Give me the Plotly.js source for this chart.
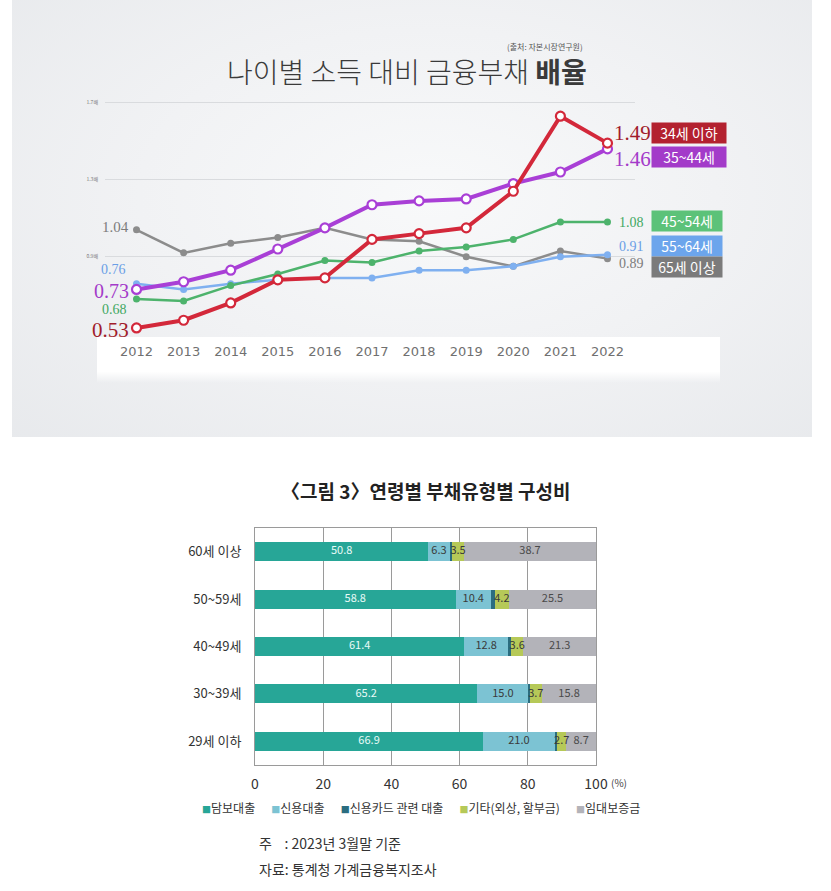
<!DOCTYPE html>
<html>
<head>
<meta charset="utf-8">
<script src="https://cdn.plot.ly/plotly-3.0.1.min.js"></script>
<style>
  html, body { margin:0; padding:0; background:#ffffff; width:831px; height:891px; overflow:hidden; }
  #bg { position:absolute; left:12px; top:0; width:800px; height:437px;
        background: radial-gradient(ellipse 80% 85% at 52% 45%, #f8f9fa 0%, #f1f2f4 45%, #e6e8eb 100%); }
  #band { position:absolute; left:97px; top:337px; width:623px; height:46px;
        background: linear-gradient(#ffffff 0%, #ffffff 75%, rgba(255,255,255,0) 100%); }
  #chart { position:absolute; left:0; top:0; width:831px; height:891px; }
</style>
</head>
<body>
<div id="bg"></div>
<div id="band"></div>
<div id="chart"></div>
<script>
// ---------- Top chart data: 나이별 소득 대비 금융부채 배율 ----------
const years = [2012, 2013, 2014, 2015, 2016, 2017, 2018, 2019, 2020, 2021, 2022];
const ageGroups = ['34세 이하', '35~44세', '45~54세', '55~64세', '65세 이상'];
const ratioUnder34 = [0.53, 0.57, 0.66, 0.78, 0.79, 0.99, 1.02, 1.05, 1.24, 1.63, 1.49];
const ratio35to44  = [0.73, 0.77, 0.83, 0.94, 1.05, 1.17, 1.19, 1.20, 1.28, 1.34, 1.46];
const ratio45to54  = [0.68, 0.67, 0.75, 0.81, 0.88, 0.87, 0.93, 0.95, 0.99, 1.08, 1.08];
const ratio55to64  = [0.76, 0.73, 0.76, 0.78, 0.79, 0.79, 0.83, 0.83, 0.85, 0.90, 0.91];
const ratioOver65  = [1.04, 0.92, 0.97, 1.00, 1.05, 0.99, 0.98, 0.90, 0.85, 0.93, 0.89];
const yTickVals = [0.9, 1.3, 1.7];
const yTickText = ['0.9배', '1.3배', '1.7배'];

// ---------- Bottom chart data: 연령별 부채유형별 구성비 ----------
const debtCats = ['60세 이상', '50~59세', '40~49세', '30~39세', '29세 이하'];
const debtTypes = ['담보대출', '신용대출', '신용카드 관련 대출', '기타(외상, 할부금)', '임대보증금'];
const mortgage = [50.8, 58.8, 61.4, 65.2, 66.9];
const creditLoan = [6.3, 10.4, 12.8, 15.0, 21.0];
const cardLoan = [0.7, 1.1, 0.9, 0.3, 0.7];
const otherDebt = [3.5, 4.2, 3.6, 3.7, 2.7];
const deposit = [38.7, 25.5, 21.3, 15.8, 8.7];
const pctTicks = [0, 20, 40, 60, 80, 100];

// ---------- helpers ----------
const W = 831, H = 891;
const px = v => v / W;
const py = v => 1 - v / H;
const NB = '\u00a0';

const lineColors = ['#d3283a', '#a93fd6', '#4db36c', '#7fb0f0', '#8c8c8c'];
const labelColors = ['#a11c2b', '#a43bc9', '#3fa862', '#6a9ee6', '#7c7c7c'];
const boxColors = ['#b3212f', '#a33bc9', '#5cc279', '#6ca5ec', '#7b7b7b'];
const series = [ratioUnder34, ratio35to44, ratio45to54, ratio55to64, ratioOver65];

const traces = [];
const order = [4, 3, 2, 1, 0];
order.forEach(i => {
  const thick = i < 2;
  traces.push({
    type: 'scatter', mode: 'lines+markers',
    x: years, y: series[i], name: ageGroups[i], showlegend: false,
    xaxis: 'x', yaxis: 'y', cliponaxis: false,
    line: { color: lineColors[i], width: thick ? 4 : 2.5 },
    marker: thick
      ? { symbol: 'circle', size: 9, color: '#ffffff', line: { color: lineColors[i], width: 2.2 } }
      : { symbol: 'circle', size: 7, color: lineColors[i] },
    hoverinfo: 'skip'
  });
});

const barColors = ['#27a697', '#7cc3d3', '#2b6d80', '#b6c958', '#b3b3b9'];
const barSeries = [mortgage, creditLoan, cardLoan, otherDebt, deposit];
const barTextColor = ['#e9fbf7', '#3a3a3a', '#3a3a3a', '#3a3a3a', '#4a4a4a'];
barSeries.forEach((vals, i) => {
  traces.push({
    type: 'bar', orientation: 'h',
    x: vals, y: debtCats, name: debtTypes[i], showlegend: false,
    xaxis: 'x2', yaxis: 'y2', width: 0.4,
    marker: { color: barColors[i], line: { width: 0 } },
    textposition: 'none',
    hoverinfo: 'skip'
  });
});
// value labels drawn on top of all bars, at each segment's middle
const labelX = [], labelY = [], labelT = [], labelC = [];
debtCats.forEach((c, k) => {
  let start = 0;
  barSeries.forEach((vals, i) => {
    if (i !== 2) {
      labelX.push(start + vals[k] / 2);
      labelY.push(c);
      labelT.push(vals[k].toFixed(1));
      labelC.push(barTextColor[i]);
    }
    start += vals[k];
  });
});
traces.push({
  type: 'scatter', mode: 'text', x: labelX, y: labelY, text: labelT,
  xaxis: 'x2', yaxis: 'y2', showlegend: false, cliponaxis: false,
  textposition: 'middle center',
  textfont: { family: 'Noto Sans CJK KR', size: 11, color: labelC },
  hoverinfo: 'skip'
});

const annotations = [];
// Top title
annotations.push({
  xref: 'paper', yref: 'paper', x: px(407), y: py(71), xanchor: 'center', yanchor: 'middle',
  text: '나이별 소득 대비 금융부채 <b>배율</b>', showarrow: false,
  font: { family: 'Noto Sans CJK KR', size: 28, color: '#3a3a3a', weight: 300 }
});
annotations.push({
  xref: 'paper', yref: 'paper', x: px(585), y: py(47), xanchor: 'right', yanchor: 'middle',
  text: '(출처: 자본시장연구원)', showarrow: false,
  font: { family: 'Noto Sans CJK KR', size: 8, color: '#555555' }
});

// start/end value labels [xshift, yshift, size]
const startShift = [[-6, -2, 21], [-6, -2, 20], [-8, -10, 14], [-9, 14, 14], [-6, 3, 15]];
const endShift = [[5, 10, 21], [5, -10, 21], [10, 0, 14], [10, 8, 14], [10, -5, 14]];
series.forEach((vals, i) => {
  annotations.push({
    xref: 'x', yref: 'y', x: years[0], y: vals[0], xanchor: 'right', yanchor: 'middle',
    xshift: startShift[i][0], yshift: startShift[i][1],
    text: vals[0].toFixed(2), showarrow: false,
    font: { family: 'Liberation Serif', size: startShift[i][2], color: labelColors[i] }
  });
  const n = vals.length - 1;
  annotations.push({
    xref: 'x', yref: 'y', x: years[n], y: vals[n], xanchor: 'left', yanchor: 'middle',
    xshift: endShift[i][0], yshift: endShift[i][1],
    text: vals[n].toFixed(2), showarrow: false,
    font: { family: 'Liberation Serif', size: endShift[i][2], color: labelColors[i] }
  });
});
// colored name boxes
const boxY = [133, 157, 221, 246, 267];
const boxW = [74, 74, 70, 70, 70];
ageGroups.forEach((g, i) => {
  annotations.push({
    xref: 'paper', yref: 'paper', x: px(651), y: py(boxY[i]), xanchor: 'left', yanchor: 'middle',
    text: g, showarrow: false, bgcolor: boxColors[i], width: boxW[i], height: 20, borderpad: 0,
    font: { family: 'Noto Sans CJK KR', size: 14, color: '#ffffff' }
  });
});

// Bottom title
annotations.push({
  xref: 'paper', yref: 'paper', x: px(425), y: py(490), xanchor: 'center', yanchor: 'middle',
  text: '<b>〈그림 3〉연령별 부채유형별 구성비</b>', showarrow: false,
  font: { family: 'Noto Sans CJK KR', size: 19, color: '#222222' }
});
// (%) unit
annotations.push({
  xref: 'paper', yref: 'paper', x: px(609), y: py(782), xanchor: 'left', yanchor: 'middle',
  text: '(%)', showarrow: false,
  font: { family: 'Noto Sans CJK KR', size: 10, color: '#444444' }
});
// legend (one line, centered)
const legendText = debtTypes.map((t, i) =>
  '<span style="color:' + barColors[i] + ';font-size:9px">■</span>' + t).join(NB + NB + NB + NB + NB + NB);
annotations.push({
  xref: 'paper', yref: 'paper', x: px(421), y: py(807), xanchor: 'center', yanchor: 'middle',
  text: legendText, showarrow: false,
  font: { family: 'Noto Sans CJK KR', size: 12, color: '#333333' }
});
// footer
annotations.push({
  xref: 'paper', yref: 'paper', x: px(257), y: py(843), xanchor: 'left', yanchor: 'middle',
  text: '주' + NB + NB + NB + NB + ':' + NB + '2023년 3월말 기준', showarrow: false,
  font: { family: 'Noto Sans CJK KR', size: 14, color: '#333333' }
});
annotations.push({
  xref: 'paper', yref: 'paper', x: px(257), y: py(869), xanchor: 'left', yanchor: 'middle',
  text: '자료: 통계청 가계금융복지조사', showarrow: false,
  font: { family: 'Noto Sans CJK KR', size: 14, color: '#333333' }
});

const layout = {
  width: W, height: H,
  margin: { l: 0, r: 0, t: 0, b: 0, pad: 0 },
  paper_bgcolor: 'rgba(0,0,0,0)', plot_bgcolor: 'rgba(0,0,0,0)',
  showlegend: false, barmode: 'stack', hovermode: false,
  xaxis: {
    domain: [px(105), px(635)], range: [2011.331, 2022.584],
    tickvals: years, ticktext: years.map(String),
    showgrid: false, zeroline: false, showline: false, ticks: '',
    ticklabelstandoff: 5,
    tickfont: { family: 'DejaVu Sans', size: 13, color: '#707070' }
  },
  yaxis: {
    domain: [py(337), py(95)], range: [0.483, 1.740],
    tickvals: yTickVals, ticktext: yTickText,
    showgrid: true, gridcolor: '#d9dbde', gridwidth: 1,
    zeroline: false, showline: false, ticks: '', ticklabelstandoff: 6,
    tickfont: { family: 'Noto Sans CJK KR', size: 5, color: '#777777' }
  },
  xaxis2: {
    anchor: 'y2', domain: [px(255), px(596)], range: [0, 100],
    tickvals: pctTicks, ticktext: pctTicks.map(String),
    showgrid: true, gridcolor: '#9a9a9a', gridwidth: 1,
    zeroline: false, showline: true, linecolor: '#9a9a9a', linewidth: 1, mirror: true,
    ticks: '', ticklabelstandoff: 6,
    tickfont: { family: 'Noto Sans CJK KR', size: 14, color: '#333333' }
  },
  yaxis2: {
    anchor: 'x2', domain: [py(765), py(528)], range: [4.5, -0.5],
    type: 'category', categoryorder: 'array', categoryarray: debtCats,
    showgrid: false, zeroline: false, showline: true, linecolor: '#9a9a9a', linewidth: 1, mirror: true,
    ticks: '', ticklabelstandoff: 10,
    tickfont: { family: 'Noto Sans CJK KR', size: 13, color: '#333333' }
  },
  annotations: annotations
};

Plotly.newPlot('chart', traces, layout, { staticPlot: true, displayModeBar: false });
</script>
</body>
</html>
